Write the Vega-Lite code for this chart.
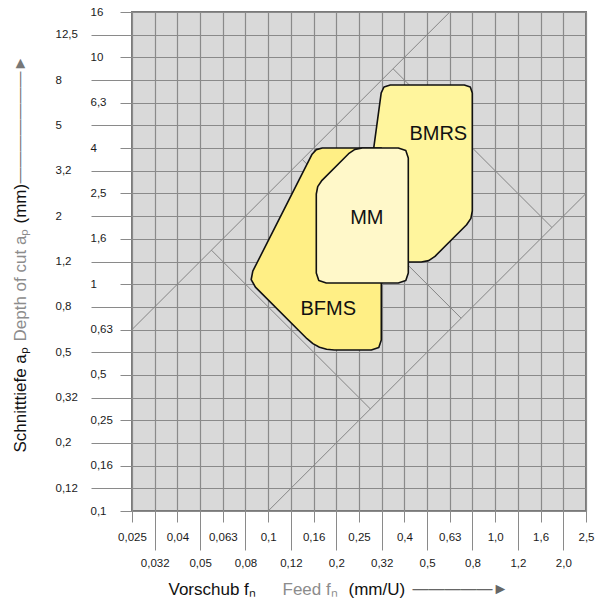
{
  "$schema": "https://vega.github.io/schema/vega-lite/v6.json",
  "width": 454,
  "height": 499,
  "autosize": {"type": "none"},
  "padding": {"left": 132, "top": 12, "right": 28, "bottom": 92},
  "background": "white",
  "config": {
    "view": {"fill": "#d9d9d9", "stroke": "#7a7a7a", "strokeWidth": 2},
    "axis": {"labelFont": "Liberation Sans", "titleFont": "Liberation Sans", "titleFontWeight": "normal", "titleFontSize": 17}
  },
  "datasets": {
    "lines": [
      {"s": "L1", "fn": 0.025119, "ap": 0.63096},
      {"s": "L1", "fn": 0.63096, "ap": 15.849},
      {"s": "L2", "fn": 0.1, "ap": 0.1},
      {"s": "L2", "fn": 2.5119, "ap": 2.5119},
      {"s": "P1", "fn": 0.056234, "ap": 1.4125},
      {"s": "P1", "fn": 0.28184, "ap": 0.28184},
      {"s": "P2", "fn": 0.35481, "ap": 8.9125},
      {"s": "P2", "fn": 1.7783, "ap": 1.7783},
      {"s": "P3", "fn": 0.14125, "ap": 3.5481},
      {"s": "P3", "fn": 0.70795, "ap": 0.70795}
    ],
    "bmrs": [
      {"i": 1, "fn": 0.31463, "ap": 6.971},
      {"i": 2, "fn": 0.32369, "ap": 7.4013},
      {"i": 3, "fn": 0.34506, "ap": 7.5532},
      {"i": 4, "fn": 0.73093, "ap": 7.5532},
      {"i": 5, "fn": 0.7768, "ap": 7.4013},
      {"i": 6, "fn": 0.79272, "ap": 6.964},
      {"i": 7, "fn": 0.79272, "ap": 2.1017},
      {"i": 8, "fn": 0.78156, "ap": 1.9496},
      {"i": 9, "fn": 0.74818, "ap": 1.8288},
      {"i": 10, "fn": 0.54298, "ap": 1.3269},
      {"i": 11, "fn": 0.50938, "ap": 1.2702},
      {"i": 12, "fn": 0.47255, "ap": 1.2523},
      {"i": 13, "fn": 0.24941, "ap": 1.2523}
    ],
    "bfms": [
      {"i": 1, "fn": 0.1561, "ap": 3.7412},
      {"i": 2, "fn": 0.16289, "ap": 3.92},
      {"i": 3, "fn": 0.17312, "ap": 3.9843},
      {"i": 4, "fn": 0.31495, "ap": 3.9843},
      {"i": 5, "fn": 0.31495, "ap": 0.56726},
      {"i": 6, "fn": 0.30707, "ap": 0.52566},
      {"i": 7, "fn": 0.28457, "ap": 0.5125},
      {"i": 8, "fn": 0.19552, "ap": 0.5125},
      {"i": 9, "fn": 0.18083, "ap": 0.51616},
      {"i": 10, "fn": 0.16827, "ap": 0.52728},
      {"i": 11, "fn": 0.15737, "ap": 0.5469},
      {"i": 12, "fn": 0.14823, "ap": 0.57479},
      {"i": 13, "fn": 0.087824, "ap": 0.97058},
      {"i": 14, "fn": 0.084163, "ap": 1.04843},
      {"i": 15, "fn": 0.085538, "ap": 1.1418}
    ],
    "mm": [
      {"i": 1, "fn": 0.22604, "ap": 3.7603},
      {"i": 2, "fn": 0.24095, "ap": 3.9281},
      {"i": 3, "fn": 0.25974, "ap": 3.9843},
      {"i": 4, "fn": 0.37422, "ap": 3.9843},
      {"i": 5, "fn": 0.40381, "ap": 3.8845},
      {"i": 6, "fn": 0.41417, "ap": 3.5997},
      {"i": 7, "fn": 0.41417, "ap": 1.12},
      {"i": 8, "fn": 0.40381, "ap": 1.0378},
      {"i": 9, "fn": 0.37422, "ap": 1.0118},
      {"i": 10, "fn": 0.18028, "ap": 1.0118},
      {"i": 11, "fn": 0.16707, "ap": 1.0378},
      {"i": 12, "fn": 0.16289, "ap": 1.12},
      {"i": 13, "fn": 0.16289, "ap": 2.4977},
      {"i": 14, "fn": 0.16523, "ap": 2.6925},
      {"i": 15, "fn": 0.17259, "ap": 2.8703}
    ],
    "labels": [
      {"t": "BMRS", "fn": 0.56156, "ap": 4.5925},
      {"t": "MM", "fn": 0.27185, "ap": 1.9675},
      {"t": "BFMS", "fn": 0.18398, "ap": 0.77715}
    ]
  },
  "layer": [
    {
      "data": {"name": "lines"},
      "mark": {"type": "line", "stroke": "#858585", "strokeWidth": 1},
      "encoding": {
        "x": {
          "field": "fn", "type": "quantitative",
          "scale": {"type": "log", "domain": [0.025119, 2.5119], "nice": false},
          "axis": {
            "orient": "bottom",
            "values": [0.025119, 0.031623, 0.039811, 0.050119, 0.063096, 0.079433, 0.1, 0.12589, 0.15849, 0.19953, 0.25119, 0.31623, 0.39811, 0.50119, 0.63096, 0.79433, 1, 1.2589, 1.5849, 1.9953, 2.5119],
            "labelExpr": "['0,025','0,032','0,04','0,05','0,063','0,08','0,1','0,12','0,16','0,2','0,25','0,32','0,4','0,5','0,63','0,8','1,0','1,2','1,6','2,0','2,5'][round(10*log(datum.value)/LN10)+16]",
            "labelOverlap": false, "labelFlush": false, "labelBound": false,
            "labelFontSize": 11.5, "labelColor": "#1a1a1a",
            "labelAlign": "center", "labelBaseline": "middle",
            "tickSize": {"condition": {"test": "abs(round(10*log(datum.value)/LN10))%2==1", "value": 39}, "value": 11},
            "labelPadding": {"condition": {"test": "abs(round(10*log(datum.value)/LN10))%2==1", "value": 13}, "value": 15},
            "tickColor": "#8a8a8a", "tickWidth": 1,
            "domain": false,
            "grid": true, "gridColor": "#8a8a8a", "gridWidth": 1.2, "gridOpacity": 1,
            "title": "Vorschub fₙ", "titleColor": "#111111",
            "titleX": 36, "titleY": 83, "titleAlign": "left", "titleBaseline": "alphabetic"
          }
        },
        "y": {
          "field": "ap", "type": "quantitative",
          "scale": {"type": "log", "domain": [0.1, 15.849], "nice": false},
          "axis": {
            "orient": "left",
            "values": [0.1, 0.12589, 0.15849, 0.19953, 0.25119, 0.31623, 0.39811, 0.50119, 0.63096, 0.79433, 1, 1.2589, 1.5849, 1.9953, 2.5119, 3.1623, 3.9811, 5.0119, 6.3096, 7.9433, 10, 12.589, 15.849],
            "labelExpr": "['0,1','0,12','0,16','0,2','0,25','0,32','0,5','0,5','0,63','0,8','1','1,2','1,6','2','2,5','3,2','4','5','6,3','8','10','12,5','16'][round(10*log(datum.value)/LN10)+10]",
            "labelOverlap": false, "labelFlush": false, "labelBound": false,
            "labelFontSize": 11.5, "labelColor": "#1a1a1a",
            "labelAlign": "left", "labelBaseline": "middle",
            "tickSize": {"condition": {"test": "abs(round(10*log(datum.value)/LN10))%2==1", "value": 41}, "value": 12},
            "labelPadding": {"condition": {"test": "abs(round(10*log(datum.value)/LN10))%2==1", "value": 36}, "value": 30},
            "tickColor": "#8a8a8a", "tickWidth": 1,
            "domain": false,
            "grid": true, "gridColor": "#8a8a8a", "gridWidth": 1.2, "gridOpacity": 1,
            "title": "Schnitttiefe aₚ", "titleColor": "#111111",
            "titleAngle": 270, "titleX": -107, "titleY": 440, "titleAlign": "left", "titleBaseline": "alphabetic"
          }
        },
        "detail": {"field": "s"}
      }
    },
    {
      "data": {"name": "bmrs"},
      "mark": {"type": "line", "interpolate": "linear-closed", "fill": "#fff59d", "stroke": "#111111", "strokeWidth": 1.6, "strokeJoin": "round"},
      "encoding": {
        "x": {"field": "fn", "type": "quantitative", "scale": {"type": "log", "domain": [0.025119, 2.5119], "nice": false},
          "axis": {"orient": "bottom", "labels": false, "ticks": false, "domain": false, "grid": false,
            "title": "Feed fₙ", "titleColor": "#8c8c8c", "titleX": 150, "titleY": 83, "titleAlign": "left", "titleBaseline": "alphabetic"}},
        "y": {"field": "ap", "type": "quantitative", "scale": {"type": "log", "domain": [0.1, 15.849], "nice": false},
          "axis": {"orient": "left", "labels": false, "ticks": false, "domain": false, "grid": false,
            "title": "Depth of cut aₚ", "titleColor": "#8c8c8c", "titleAngle": 270, "titleX": -107, "titleY": 329, "titleAlign": "left", "titleBaseline": "alphabetic"}},
        "order": {"field": "i", "type": "quantitative"}
      }
    },
    {
      "data": {"name": "bfms"},
      "mark": {"type": "line", "interpolate": "linear-closed", "fill": "#ffef85", "stroke": "#111111", "strokeWidth": 1.6, "strokeJoin": "round"},
      "encoding": {
        "x": {"field": "fn", "type": "quantitative", "scale": {"type": "log", "domain": [0.025119, 2.5119], "nice": false},
          "axis": {"orient": "bottom", "labels": false, "ticks": false, "domain": false, "grid": false,
            "title": "(mm/U)", "titleColor": "#111111", "titleX": 216, "titleY": 83, "titleAlign": "left", "titleBaseline": "alphabetic"}},
        "y": {"field": "ap", "type": "quantitative", "scale": {"type": "log", "domain": [0.1, 15.849], "nice": false},
          "axis": {"orient": "left", "labels": false, "ticks": false, "domain": false, "grid": false,
            "title": "(mm)", "titleColor": "#111111", "titleAngle": 270, "titleX": -107, "titleY": 211, "titleAlign": "left", "titleBaseline": "alphabetic"}},
        "order": {"field": "i", "type": "quantitative"}
      }
    },
    {
      "data": {"name": "mm"},
      "mark": {"type": "line", "interpolate": "linear-closed", "fill": "#fff8c9", "stroke": "#111111", "strokeWidth": 1.6, "strokeJoin": "round"},
      "encoding": {
        "x": {"field": "fn", "type": "quantitative", "scale": {"type": "log", "domain": [0.025119, 2.5119], "nice": false},
          "axis": {"orient": "bottom", "labels": false, "ticks": false, "domain": false, "grid": false,
            "title": "—————►", "titleColor": "#666666", "titleFontSize": 16, "titleX": 280, "titleY": 82, "titleAlign": "left", "titleBaseline": "alphabetic"}},
        "y": {"field": "ap", "type": "quantitative", "scale": {"type": "log", "domain": [0.1, 15.849], "nice": false},
          "axis": {"orient": "left", "labels": false, "ticks": false, "domain": false, "grid": false,
            "title": "———————►", "titleColor": "#777777", "titleFontSize": 16, "titleAngle": 270, "titleX": -108, "titleY": 171, "titleAlign": "left", "titleBaseline": "alphabetic"}},
        "order": {"field": "i", "type": "quantitative"}
      }
    },
    {
      "data": {"name": "labels"},
      "mark": {"type": "text", "fontSize": 20, "font": "Liberation Sans", "color": "#111111", "align": "center", "baseline": "middle"},
      "encoding": {
        "x": {"field": "fn", "type": "quantitative", "scale": {"type": "log", "domain": [0.025119, 2.5119], "nice": false}, "axis": null},
        "y": {"field": "ap", "type": "quantitative", "scale": {"type": "log", "domain": [0.1, 15.849], "nice": false}, "axis": null},
        "text": {"field": "t"}
      }
    }
  ],
  "resolve": {"axis": {"x": "independent", "y": "independent"}}
}
